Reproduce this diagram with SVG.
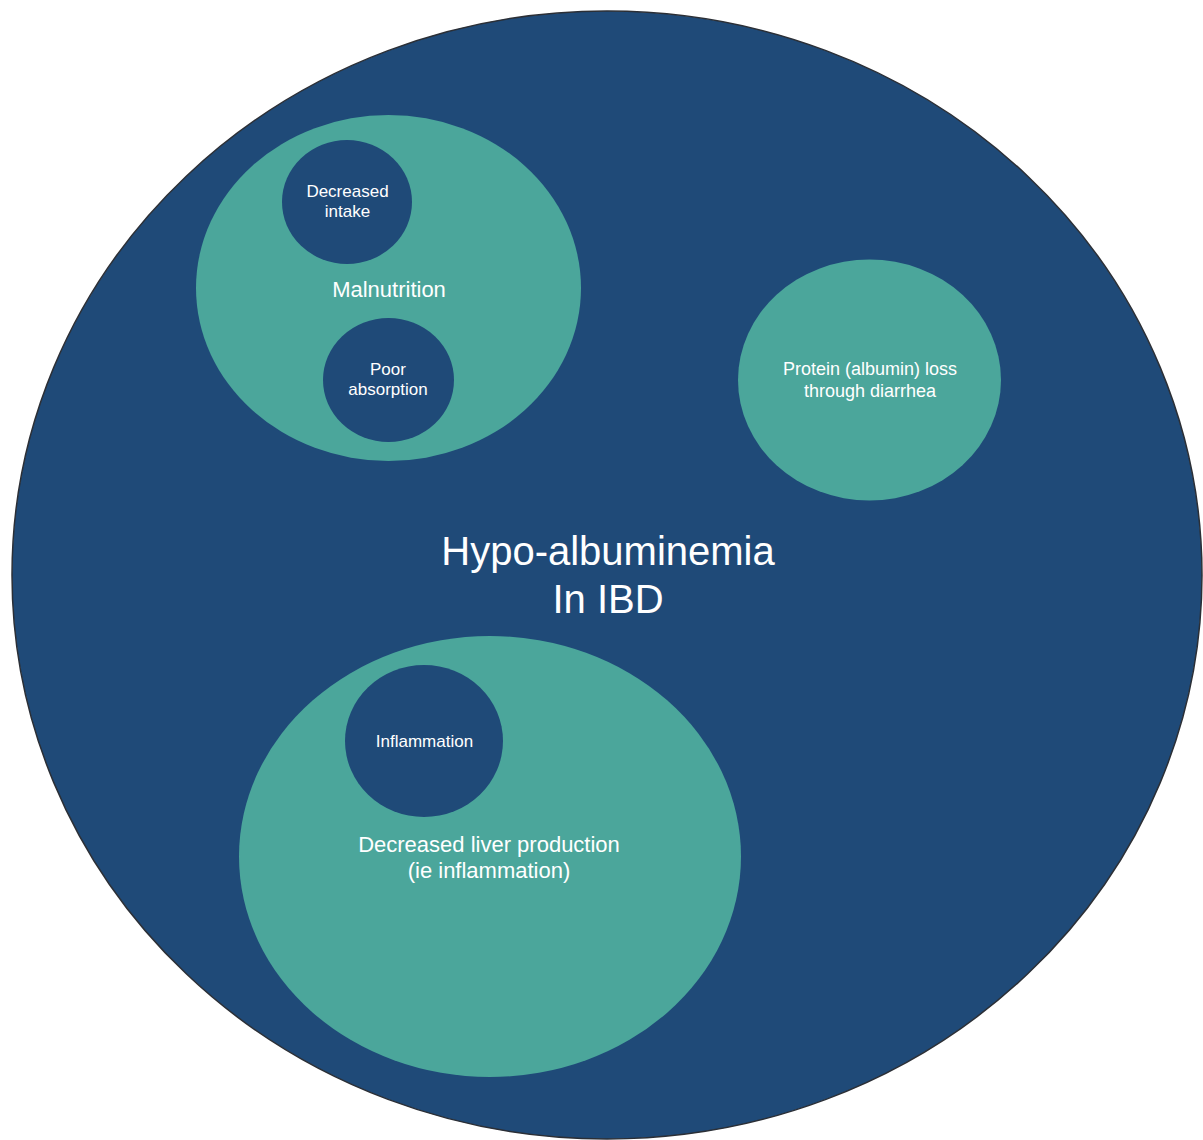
<svg xmlns="http://www.w3.org/2000/svg" width="1203" height="1140" viewBox="0 0 1203 1140">
<style>
.dark{fill:#1F4A78}
.teal{fill:#4BA69B}
.t{fill:#ffffff;font-family:"Liberation Sans",Arial,Helvetica,sans-serif;text-anchor:middle}
.s17{font-size:17px}
.s18{font-size:18px}
.s22{font-size:22px}
.s40{font-size:40px}
</style>
<rect width="1203" height="1140" fill="#ffffff"/>
<g id="outer">
<ellipse class="dark" cx="607" cy="575" rx="595" ry="564" stroke="#2b2f36" stroke-width="1.5"/>
<text class="t s40" x="608" y="565">Hypo-albuminemia</text>
<text class="t s40" x="608" y="613">In IBD</text>
</g>
<g id="malnutrition">
<ellipse class="teal" cx="388.5" cy="288" rx="192.5" ry="173"/>
<text class="t s22" x="389" y="297">Malnutrition</text>
</g>
<g id="decreased-intake">
<ellipse class="dark" cx="347" cy="202" rx="65" ry="62"/>
<text class="t s17" x="347.5" y="197">Decreased</text>
<text class="t s17" x="347.5" y="217">intake</text>
</g>
<g id="poor-absorption">
<ellipse class="dark" cx="388.5" cy="380" rx="65.5" ry="62"/>
<text class="t s17" x="388" y="375">Poor</text>
<text class="t s17" x="388" y="395">absorption</text>
</g>
<g id="protein-loss">
<ellipse class="teal" cx="869.5" cy="380" rx="131.5" ry="120.5"/>
<text class="t s18" x="870" y="375">Protein (albumin) loss</text>
<text class="t s18" x="870" y="397">through diarrhea</text>
</g>
<g id="liver">
<ellipse class="teal" cx="490" cy="856.5" rx="251" ry="220.5"/>
<text class="t s22" x="489" y="852">Decreased liver production</text>
<text class="t s22" x="489" y="878">(ie inflammation)</text>
</g>
<g id="inflammation">
<ellipse class="dark" cx="424" cy="741" rx="79" ry="76"/>
<text class="t s17" x="424.5" y="747">Inflammation</text>
</g>
<g id="connectors"></g>
</svg>
